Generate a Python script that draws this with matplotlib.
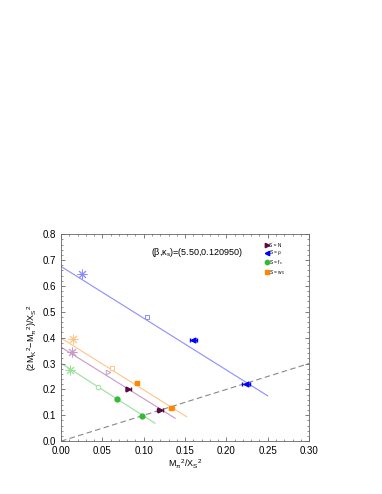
import matplotlib
matplotlib.use("Agg")
import matplotlib.pyplot as plt
import numpy as np
from matplotlib.ticker import MultipleLocator

plt.rcParams['font.family'] = ['Liberation Sans', 'DejaVu Sans']
plt.rcParams['mathtext.fontset'] = 'custom'
plt.rcParams['mathtext.rm'] = 'Liberation Sans'
plt.rcParams['mathtext.it'] = 'Liberation Sans'

rho_star = (0.025, 0.646)
rho_open = (0.1037, 0.478)
rho_x = [0.160, 0.2234]
rho_y = [0.391, 0.221]
rho_xerr = [0.004, 0.005]
rho_line = (0.675, -2.0, 0.25)

w_star = (0.0149, 0.395)
w_open = (0.0613, 0.282)
w_x = [0.0916, 0.133]
w_y = [0.226, 0.130]
w_xerr = [0.002, 0.003]
w_line = (0.398, -2.0, 0.152)

n_star = (0.0129, 0.346)
n_open = (0.0573, 0.266)
n_x = [0.0815, 0.1198]
n_y = [0.201, 0.119]
n_xerr = [0.003, 0.004]
n_line = (0.363, -1.99, 0.138)

f_star = (0.0109, 0.275)
f_open = (0.0452, 0.208)
f_x = [0.0674, 0.0984]
f_y = [0.163, 0.097]
f_xerr = [0.001, 0.001]
f_line = (0.301, -2.04, 0.1137)

legend_labels = ['S = N', r'S = $\rho$', r'S = f$_s$', r'S = w$_0$']

fig = plt.figure(figsize=(3.82, 4.94), dpi=100)
ax = fig.add_axes([0.160, 0.107, 0.649, 0.419])

series = [
    (n_star, n_open, n_x, n_y, n_xerr, n_line, '#5a0a3c', '#c79ac7', '>', legend_labels[0]),
    (rho_star, rho_open, rho_x, rho_y, rho_xerr, rho_line, '#0000ff', '#8c8cff', '<', legend_labels[1]),
    (f_star, f_open, f_x, f_y, f_xerr, f_line, '#33bb33', '#99e099', 'o', legend_labels[2]),
    (w_star, w_open, w_x, w_y, w_xerr, w_line, '#ff8800', '#ffc488', 's', legend_labels[3]),
]
open_markers = {'>': '>', '<': 's', 'o': 'o', 's': 's'}

handles = []
for star, op, xs, ys, xe, line, col, lcol, mk, lab in series:
    b, m, xend = line
    lx = np.array([0.0, xend])
    ax.plot(lx, b + m * lx, color=lcol, lw=0.8, zorder=1)
    ax.errorbar([star[0]], [star[1]], xerr=[0.002], yerr=[0.01], fmt='none',
                ecolor=lcol, elinewidth=0.6, capsize=0, zorder=2)
    ax.plot([star[0]], [star[1]], marker=(8, 2, 0), ms=7, color=lcol, mew=0.7,
            ls='none', zorder=3)
    ax.plot([op[0]], [op[1]], marker=open_markers[mk], ms=3.3, mfc='white', mec=lcol,
            mew=0.7, ls='none', zorder=3)
    ax.errorbar(xs, ys, xerr=xe, fmt='none', ecolor=col, elinewidth=0.8, capsize=1.2,
                zorder=3)
    h, = ax.plot(xs, ys, marker=mk, ms=3.5, color=col, ls='none', zorder=4, label=lab)
    handles.append(h)

dx = np.array([0.0, 0.30])
ax.plot(dx, dx, ls=(0, (5, 3)), color='#888888', lw=0.8, zorder=1)

ax.set_xlim(0, 0.30)
ax.set_ylim(0, 0.8)
ax.xaxis.set_major_locator(MultipleLocator(0.05))
ax.xaxis.set_minor_locator(MultipleLocator(0.01))
ax.yaxis.set_major_locator(MultipleLocator(0.1))
ax.yaxis.set_minor_locator(MultipleLocator(0.02))
ax.xaxis.set_major_formatter(matplotlib.ticker.FormatStrFormatter('%.2f'))
ax.yaxis.set_major_formatter(matplotlib.ticker.FormatStrFormatter('%.1f'))
ax.tick_params(which='both', direction='in', top=True, right=True, labelsize=7,
               color='#666666')
ax.tick_params(which='major', length=3, width=0.6)
ax.tick_params(which='minor', length=1.5, width=0.5)
for s in ax.spines.values():
    s.set_color('#666666')
    s.set_linewidth(0.6)

ax.set_xlabel(r'M$_\pi$$^2$/X$_S$$^2$', fontsize=6.5, labelpad=1)
ax.set_ylabel(r'(2M$_K$$^2$$-$M$_\pi$$^2$)/X$_S$$^2$', fontsize=6.5, labelpad=3)

ax.text(0.109, 0.729, r'($\beta$,$\kappa_s$)=(5.50,0.120950)', fontsize=6.5,
        va='center', ha='left')

leg = ax.legend(handles=handles, loc='upper left', bbox_to_anchor=(0.81, 0.975),
                fontsize=3.5, frameon=False, handlelength=0.6, handletextpad=0.2,
                labelspacing=0.15, borderpad=0.2, markerscale=0.9)

fig.savefig('out.png', dpi=100)
